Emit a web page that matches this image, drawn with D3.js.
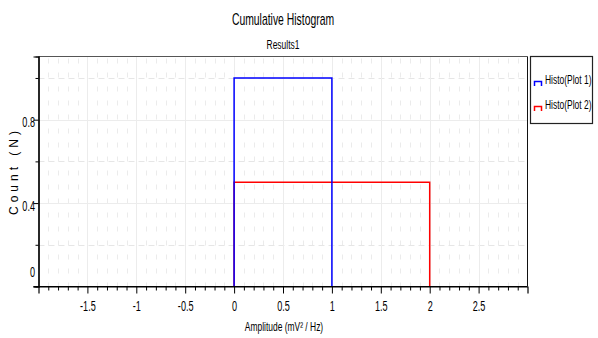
<!DOCTYPE html>
<html>
<head>
<meta charset="utf-8">
<script src="https://cdn.jsdelivr.net/npm/d3@7"></script>
<style>
  html, body { margin: 0; padding: 0; background: #fff; }
  svg { display: block; }
  text { font-family: "Liberation Sans", Arial, sans-serif; fill: #000; }
</style>
</head>
<body>
<svg id="chart" width="598" height="338"></svg>
<script>
// Histogram series: bin edges and per-bin counts
const seriesNames = ["Histo(Plot 1)", "Histo(Plot 2)"];
const seriesColors = ["#0000ff", "#ff0000"];
const binEdges1 = [0, 1];
const counts1 = [1.0];
const binEdges2 = [0, 2];
const counts2 = [0.5];

// Axis ticks
const xMajorTicks = [-1.5, -1, -0.5, 0, 0.5, 1, 1.5, 2, 2.5];
const xTickLabels = ["-1.5", "-1", "-0.5", "0", "0.5", "1", "1.5", "2", "2.5"];
const yMajorTicks = [0, 0.4, 0.8];
const yTickLabels = ["0", "0.4", "0.8"];
const yMinorTicks = [0.2, 0.6, 1.0];

const titleText = "Cumulative Histogram";
const subtitleText = "Results1";
const xTitle = "Amplitude (mV\u00B2 / Hz)";
const yTitle = "Count (N)";

// Horizontal squeeze used for the condensed label face
const SQ = 0.65;

const svg = d3.select("#chart");
const plot = { left: 38.5, top: 56.5, right: 527.5, bottom: 286.5 };

const x = d3.scaleLinear().domain([-2, 3]).range([plot.left, plot.right]);
const y = d3.scaleLinear().domain([0, 1.103]).range([plot.bottom, plot.top]);

// Condensed text placed at (px, py)
function narrowText(parent, px, py, str, size, anchor) {
  return parent.append("text")
    .attr("transform", `translate(${px},${py}) scale(${SQ},1)`)
    .attr("text-anchor", anchor || "middle")
    .attr("font-size", size)
    .text(str);
}

// Minor grid (dashed) every 0.1 on x, and at minor y ticks
const xMinor = d3.range(-19, 30).map(i => i / 10).filter(v => Math.abs(v * 2 - Math.round(v * 2)) > 1e-6);
const grid = svg.append("g");
grid.selectAll("line.vminor").data(xMinor).join("line")
  .attr("x1", d => Math.round(x(d)) + 0.5).attr("x2", d => Math.round(x(d)) + 0.5)
  .attr("y1", plot.top).attr("y2", plot.bottom)
  .attr("stroke", "#ebebeb").attr("stroke-width", 1)
  .attr("stroke-dasharray", "5,9").attr("stroke-dashoffset", -2);
grid.selectAll("line.hminor").data(yMinorTicks).join("line")
  .attr("x1", plot.left).attr("x2", plot.right)
  .attr("y1", d => Math.round(y(d)) + 0.5).attr("y2", d => Math.round(y(d)) + 0.5)
  .attr("stroke", "#e6e6e6").attr("stroke-width", 1)
  .attr("stroke-dasharray", "6,4");
// Major grid (solid)
grid.selectAll("line.vmajor").data(xMajorTicks).join("line")
  .attr("x1", d => Math.round(x(d)) + 0.5).attr("x2", d => Math.round(x(d)) + 0.5)
  .attr("y1", plot.top).attr("y2", plot.bottom)
  .attr("stroke", "#ececec").attr("stroke-width", 1);
grid.selectAll("line.hmajor").data(yMajorTicks.filter(v => v > 0)).join("line")
  .attr("x1", plot.left).attr("x2", plot.right)
  .attr("y1", d => Math.round(y(d)) + 0.5).attr("y2", d => Math.round(y(d)) + 0.5)
  .attr("stroke", "#ececec").attr("stroke-width", 1);

// Plot frame: top and right
svg.append("line").attr("x1", plot.left).attr("x2", plot.right)
  .attr("y1", plot.top).attr("y2", plot.top).attr("stroke", "#555").attr("stroke-width", 1.2);
svg.append("line").attr("x1", plot.right).attr("x2", plot.right)
  .attr("y1", plot.top).attr("y2", plot.bottom).attr("stroke", "#111").attr("stroke-width", 1);

// Histogram step outlines
function stepPath(edges, counts) {
  const pts = [[edges[0], 0]];
  counts.forEach((c, i) => { pts.push([edges[i], c]); pts.push([edges[i + 1], c]); });
  pts.push([edges[edges.length - 1], 0]);
  return d3.line().x(d => x(d[0])).y(d => y(d[1]))(pts);
}
svg.append("path").attr("d", stepPath(binEdges2, counts2))
  .attr("fill", "none").attr("stroke", seriesColors[1]).attr("stroke-width", 1.5);
svg.append("path").attr("d", stepPath(binEdges1, counts1))
  .attr("fill", "none").attr("stroke", seriesColors[0]).attr("stroke-width", 1.5);

// X axis: minor ticks every 0.1, major every 0.5
const xAxisG = svg.append("g").attr("transform", `translate(0,${plot.bottom})`);
xAxisG.call(d3.axisBottom(x).tickValues(xMinor).tickSize(4).tickFormat(""));
const xMajorG = xAxisG.append("g").call(d3.axisBottom(x).tickValues(xMajorTicks).tickSize(7)
    .tickFormat((d, i) => xTickLabels[i]).tickPadding(8));
xAxisG.selectAll("path.domain").attr("stroke", "#000").attr("stroke-width", 1.2);
xAxisG.selectAll("line").attr("stroke", "#000");
xMajorG.selectAll("text").attr("font-size", 14).attr("font-family", null)
  .attr("transform", `scale(${SQ},1)`);
xAxisG.select("path.domain").attr("d", `M${plot.left - 5},0H${plot.right}`);

// Y axis
const yAxisG = svg.append("g").attr("transform", `translate(${plot.left},0)`);
yAxisG.call(d3.axisLeft(y).tickValues(yMinorTicks).tickSize(3).tickFormat(""));
const yMajorG = yAxisG.append("g").call(d3.axisLeft(y).tickValues(yMajorTicks).tickSize(5)
    .tickFormat((d, i) => yTickLabels[i]).tickPadding(2));
yAxisG.selectAll("path.domain").attr("stroke", "#000").attr("stroke-width", 1.2);
yAxisG.selectAll("line").attr("stroke", "#000");
yMajorG.selectAll("text").attr("font-size", 14).attr("font-family", null)
  .attr("x", -3.5 / SQ)
  .attr("transform", `scale(${SQ},1)`)
  .attr("dy", d => d === 0 ? "-0.7em" : "0.5em");

// Titles
const cx = (plot.left + plot.right) / 2;
narrowText(svg, cx, 25, titleText, 16);
narrowText(svg, cx, 49, subtitleText, 13);
narrowText(svg, cx + 1, 331, xTitle, 13);
svg.append("text").attr("transform", `translate(18,171) rotate(-90)`)
  .attr("text-anchor", "middle")
  .attr("font-size", 12).attr("letter-spacing", 4).text(yTitle);

// Legend
const legend = svg.append("g");
legend.append("rect").attr("x", 530.5).attr("y", 56.5).attr("width", 62).attr("height", 67)
  .attr("fill", "#fff").attr("stroke", "#222").attr("stroke-width", 1.2);
seriesNames.forEach((name, i) => {
  const cy = 79 + i * 25;
  legend.append("path")
    .attr("d", `M${534.5},${cy + 7}V${cy + 2.5}H${541.5}V${cy + 7}`)
    .attr("fill", "none").attr("stroke", seriesColors[i]).attr("stroke-width", 1.5);
  narrowText(legend, 545, cy + 5, name, 13, "start");
});
</script>
</body>
</html>
